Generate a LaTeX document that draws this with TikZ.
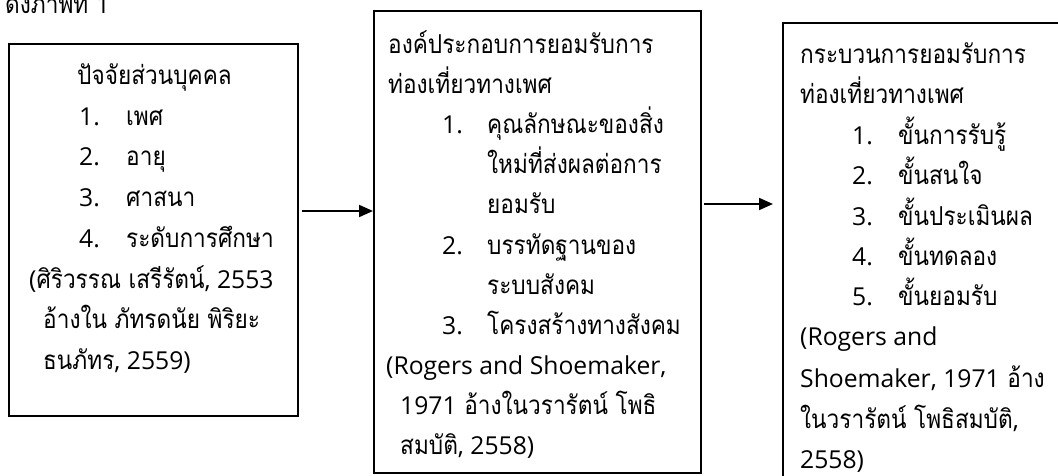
\documentclass[tikz,border=0pt]{standalone}
\usepackage{fontspec}
\newfontfamily\thai[Script=Thai,FakeStretch=0.87]{Loma}
\newfontfamily\latf[Scale=0.95]{Open Sans}
\newcommand\la[1]{{\latf #1}}
\usetikzlibrary{arrows.meta}
\begin{document}
\begin{tikzpicture}[x=1pt,y=-1pt,
  t/.style={anchor=base west,inner sep=0pt,font=\thai\fontsize{26}{30}\selectfont},
  box/.style={draw,line width=1.8pt,inner sep=0pt,anchor=north west},
  arr/.style={line width=2pt,-{Triangle[length=14pt,width=12pt]}}]
\useasboundingbox (0,0) rectangle (1058,476);
% boxes
\node[box,minimum width=289pt,minimum height=372pt] (b1) at (8,43) {};
\node[box,minimum width=327pt,minimum height=462pt] (b2) at (373,10) {};
\node[box,minimum width=290pt,minimum height=470pt] (b3) at (782,22) {};
% arrows
\coordinate (y1) at (0,211);
\coordinate (y2) at (0,204);
\draw[arr,shorten <=3pt] (b1.east |- y1) -- (b2.west |- y1);
\draw[arr,shorten <=2pt,shorten >=9pt] (b2.east |- y2) -- (b3.west |- y2);
% caption
\node[t] (cap) at (5,14) {ดังภาพที่ \la{1}};
% box 1
\node[t] (a0) at (77,85) {ปัจจัยส่วนบุคคล};
\node[t] (a1n) at (79,126) {\la{1.}}; \node[t] (a1) at (126,126) {เพศ};
\node[t] (a2n) at (79,166) {\la{2.}}; \node[t] (a2) at (126,166) {อายุ};
\node[t] (a3n) at (79,207) {\la{3.}}; \node[t] (a3) at (126,207) {ศาสนา};
\node[t] (a4n) at (79,247) {\la{4.}}; \node[t] (a4) at (126,247) {ระดับการศึกษา};
\node[t] (a5) at (29,288) {\la{(}ศิริวรรณ เสรีรัตน์\la{, 2553}};
\node[t] (a6) at (43,328) {อ้างใน ภัทรดนัย พิริยะ};
\node[t] (a7) at (43,369) {ธนภัทร\la{, 2559)}};
% box 2
\node[t] (c0) at (388,54) {องค์ประกอบการยอมรับการ};
\node[t] (c1) at (388,94) {ท่องเที่ยวทางเพศ};
\node[t] (c2n) at (442,134) {\la{1.}}; \node[t] (c2) at (487,134) {คุณลักษณะของสิ่ง};
\node[t] (c3) at (487,174) {ใหม่ที่ส่งผลต่อการ};
\node[t] (c4) at (487,214) {ยอมรับ};
\node[t] (c5n) at (442,254) {\la{2.}}; \node[t] (c5) at (487,254) {บรรทัดฐานของ};
\node[t] (c6) at (487,294) {ระบบสังคม};
\node[t] (c7n) at (442,334) {\la{3.}}; \node[t] (c7) at (487,334) {โครงสร้างทางสังคม};
\node[t] (c8) at (386,374) {\la{(Rogers and Shoemaker,}};
\node[t] (c9) at (400,414) {\la{1971} อ้างในวรารัตน์ โพธิ};
\node[t] (c10) at (400,454) {สมบัติ\la{, 2558)}};
% box 3
\node[t] (d0) at (800,64) {กระบวนการยอมรับการ};
\node[t] (d1) at (800,104) {ท่องเที่ยวทางเพศ};
\node[t] (d2n) at (852,145) {\la{1.}}; \node[t] (d2) at (898,145) {ขั้นการรับรู้};
\node[t] (d3n) at (852,185) {\la{2.}}; \node[t] (d3) at (898,185) {ขั้นสนใจ};
\node[t] (d4n) at (852,225) {\la{3.}}; \node[t] (d4) at (898,225) {ขั้นประเมินผล};
\node[t] (d5n) at (852,265) {\la{4.}}; \node[t] (d5) at (898,265) {ขั้นทดลอง};
\node[t] (d6n) at (852,305) {\la{5.}}; \node[t] (d6) at (898,305) {ขั้นยอมรับ};
\node[t] (d7) at (800,345) {\la{(Rogers and}};
\node[t] (d8) at (800,387) {\la{Shoemaker, 1971} อ้าง};
\node[t] (d9) at (800,428) {ในวรารัตน์ โพธิสมบัติ\la{,}};
\node[t] (d10) at (800,468) {\la{2558)}};
\end{tikzpicture}
\end{document}
